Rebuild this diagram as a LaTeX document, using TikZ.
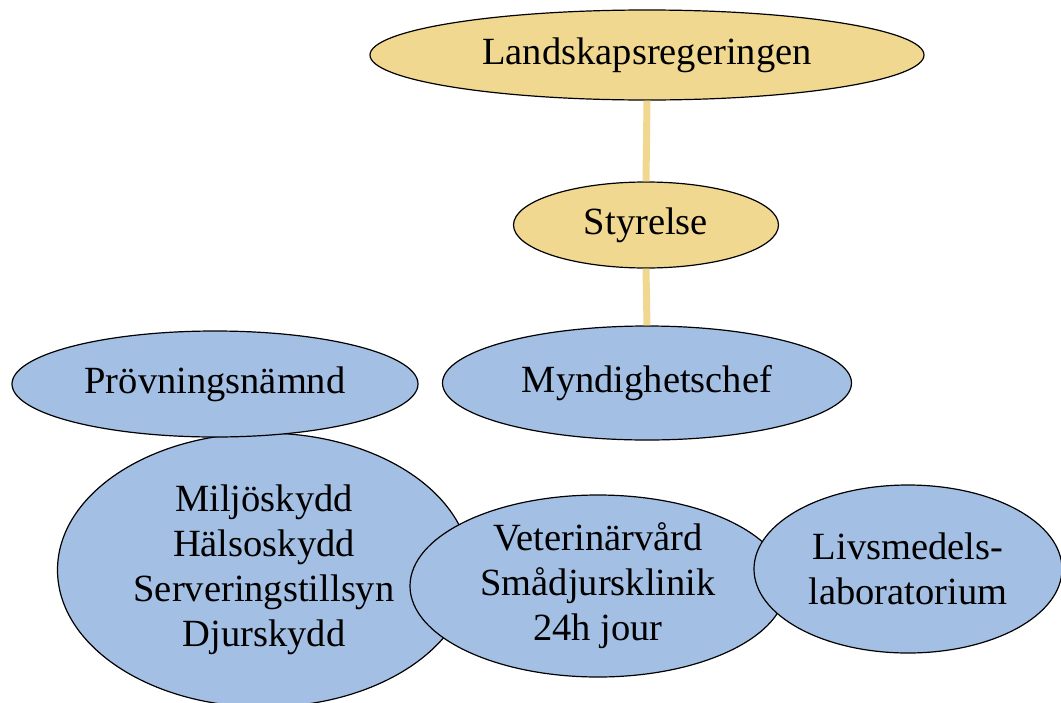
\documentclass[tikz,border=0pt]{standalone}
\usepackage{fontspec}
\setmainfont{Liberation Serif}
\usetikzlibrary{shapes.geometric}
\definecolor{goldfill}{RGB}{240,216,144}
\definecolor{bluefill}{RGB}{163,191,227}
\tikzset{
  oval/.style={ellipse, draw=black, line width=1.2pt, inner sep=0pt, align=center,
    font=\fontsize{38.5}{45}\selectfont},
  goldoval/.style={oval, fill=goldfill},
  blueoval/.style={oval, fill=bluefill},
  conn/.style={draw=goldfill, line width=7pt}
}
\begin{document}
\begin{tikzpicture}[x=1pt, y=-1pt]
  \useasboundingbox (0,0) rectangle (1061,702);
  % upper tier
  \node[goldoval, minimum width=554pt, minimum height=90pt] (lr) at (647,55) {Landskapsregeringen};
  \node[goldoval, minimum width=265pt, minimum height=86pt] (sty) at (646,225) {Styrelse};
  \node[blueoval, minimum width=409pt, minimum height=114pt] (chef) at (647,383) {Myndighetschef};
  % connectors between the upper levels
  \draw[conn] (lr.south) -- (sty.north);
  \draw[conn] (sty.south) -- (chef.north);
  % lower tier, drawn back to front
  \node[blueoval, minimum width=413pt, minimum height=274pt] (milj) at (264,570)
    {Miljöskydd\\Hälsoskydd\\Serveringstillsyn\\Djurskydd};
  \node[blueoval, minimum width=406pt, minimum height=106pt] (prov) at (215,384) {Prövningsnämnd};
  \node[blueoval, minimum width=376pt, minimum height=182pt] (vet) at (598,586)
    {Veterinärvård\\Smådjursklinik\\24h jour};
  \node[blueoval, minimum width=308pt, minimum height=168pt] (livs) at (908,569)
    {Livsmedels-\\laboratorium};
\end{tikzpicture}
\end{document}
